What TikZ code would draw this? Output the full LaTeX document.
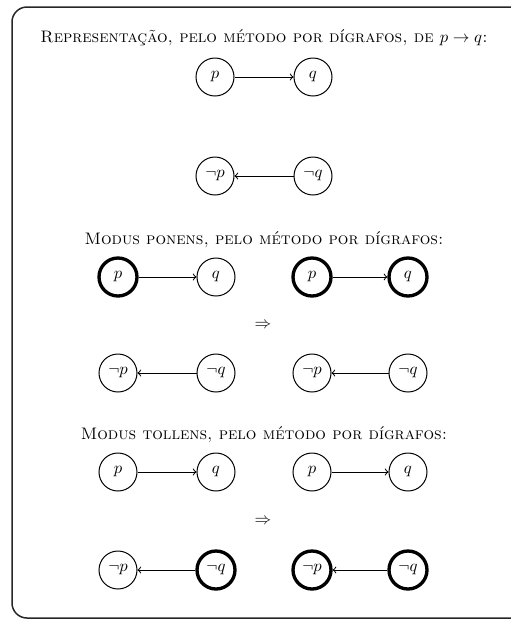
\documentclass[tikz,border=0pt]{standalone}
\usepackage{amssymb}
\begin{document}
\begin{tikzpicture}[x=0.6pt,y=-0.6pt,
  vert/.style={circle, draw, line width=0.6pt, minimum size=22.8pt, inner sep=0pt},
  held/.style={vert, line width=2pt},
  imp/.style={->, line width=0.6pt},
  heading/.style={font=\scshape},
  frameline/.style={draw=black!85, line width=0.9pt, rounded corners=9pt}]
\useasboundingbox (0,0) rectangle (511,619);
\begin{scope}
  \clip (0,0) rectangle (511,619);
  \draw[frameline] (12,7) rectangle (540,618);
\end{scope}

% representation of p -> q
\node[heading] (t1) at (264,38) {Representação, pelo método por dígrafos, de $p\to q$:};
\node[vert] (p1) at (215,77) {$p$};
\node[vert] (q1) at (313,77) {$q$};
\node[vert] (np1) at (215,176) {$\neg p$};
\node[vert] (nq1) at (313,176) {$\neg q$};
\draw[imp] (p1) -- (q1);
\draw[imp] (nq1) -- (np1);

% modus ponens
\node[heading] (t2) at (264,240) {Modus ponens, pelo método por dígrafos:};
\node[held] (a1) at (118,277) {$p$};
\node[vert] (b1) at (216,277) {$q$};
\node[held] (c1) at (312,277) {$p$};
\node[held] (d1) at (408,277) {$q$};
\draw[imp] (a1) -- (b1);
\draw[imp] (c1) -- (d1);
\node (i1) at (263,325) {$\Rightarrow$};
\node[vert] (a2) at (118,373) {$\neg p$};
\node[vert] (b2) at (216,373) {$\neg q$};
\node[vert] (c2) at (312,373) {$\neg p$};
\node[vert] (d2) at (408,373) {$\neg q$};
\draw[imp] (b2) -- (a2);
\draw[imp] (d2) -- (c2);

% modus tollens
\node[heading] (t3) at (264,435) {Modus tollens, pelo método por dígrafos:};
\node[vert] (e1) at (118,472) {$p$};
\node[vert] (f1) at (216,472) {$q$};
\node[vert] (g1) at (312,472) {$p$};
\node[vert] (h1) at (408,472) {$q$};
\draw[imp] (e1) -- (f1);
\draw[imp] (g1) -- (h1);
\node (i2) at (263,521) {$\Rightarrow$};
\node[vert] (e2) at (118,570) {$\neg p$};
\node[held] (f2) at (216,570) {$\neg q$};
\node[held] (g2) at (312,570) {$\neg p$};
\node[held] (h2) at (408,570) {$\neg q$};
\draw[imp] (f2) -- (e2);
\draw[imp] (h2) -- (g2);
\end{tikzpicture}
\end{document}
